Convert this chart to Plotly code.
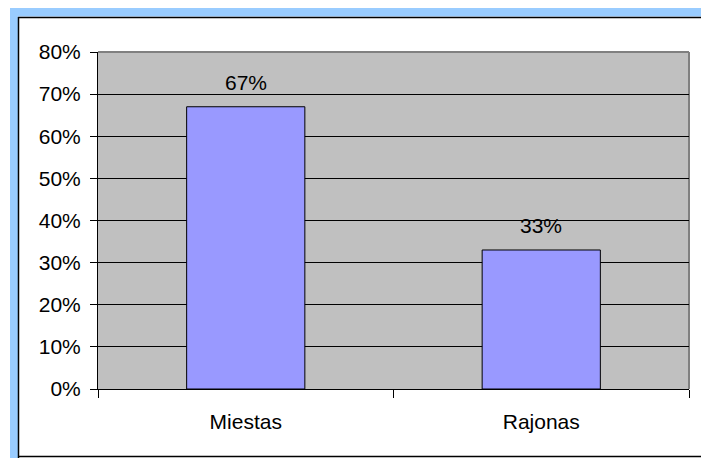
import plotly.graph_objects as go

categories = ["Miestas", "Rajonas"]
values = [0.67, 0.33]
labels = ["67%", "33%"]

W, H = 701, 458
L, R, T, B = 98, 12, 52, 69
pw, ph = W - L - R, H - T - B

def px(x):
    return (x - L) / pw

def py(y):
    return (H - B - y) / ph

FONT = "Liberation Sans, Arial, sans-serif"
FS = 21

fig = go.Figure()
fig.add_trace(go.Bar(
    x=categories, y=values, width=0.4,
    marker=dict(color="#9999FF", line=dict(color="black", width=1)),
    hoverinfo="skip",
))

for c, v, t in zip(categories, values, labels):
    fig.add_annotation(x=c, y=v, text=t, showarrow=False, yanchor="middle",
                       yshift=24, font=dict(size=FS, color="black", family=FONT))

shapes = [
    dict(type="rect", xref="paper", yref="paper", x0=px(10), x1=px(W + 5), y0=py(16.5), y1=py(8),
         fillcolor="#99CCFF", line=dict(width=0), layer="above"),
    dict(type="rect", xref="paper", yref="paper", x0=px(10), x1=px(18), y0=py(H + 5), y1=py(8),
         fillcolor="#99CCFF", line=dict(width=0), layer="above"),
    dict(type="line", xref="paper", yref="paper", x0=px(18), x1=px(W + 5), y0=py(17.5), y1=py(17.5),
         line=dict(color="black", width=1.5), layer="above"),
    dict(type="line", xref="paper", yref="paper", x0=px(18.5), x1=px(18.5), y0=py(17), y1=py(H + 5),
         line=dict(color="black", width=1.5), layer="above"),
    dict(type="line", xref="paper", yref="paper", x0=px(18), x1=px(W + 5), y0=py(456.5), y1=py(456.5),
         line=dict(color="black", width=1.5), layer="above"),
    dict(type="line", xref="paper", yref="paper", x0=0, x1=1, y0=1, y1=1,
         line=dict(color="#808080", width=2), layer="below"),
    dict(type="line", xref="paper", yref="paper", x0=1, x1=1, y0=0, y1=1,
         line=dict(color="#808080", width=2), layer="below"),
]

fig.update_layout(
    width=W, height=H,
    margin=dict(l=L, r=R, t=T, b=B),
    paper_bgcolor="white", plot_bgcolor="#C0C0C0",
    showlegend=False,
    font=dict(family=FONT, size=FS, color="black"),
    shapes=shapes,
)
fig.update_yaxes(
    range=[0, 0.8], dtick=0.1, tickformat=".0%",
    showgrid=True, gridcolor="black", gridwidth=1,
    showline=True, linecolor="black", linewidth=1,
    ticks="outside", ticklen=7, tickcolor="black",
    ticklabelstandoff=5, zeroline=False,
    tickfont=dict(size=FS, family=FONT),
)
fig.update_xaxes(
    type="category", tickson="boundaries",
    showline=True, linecolor="black", linewidth=1,
    ticks="outside", ticklen=8, tickcolor="black",
    ticklabelstandoff=14, showgrid=False,
    tickfont=dict(size=FS, family=FONT),
)

fig.write_html("out.html", config={"displayModeBar": False},
               post_script="document.body.style.margin='0';document.body.style.overflow='hidden';")
